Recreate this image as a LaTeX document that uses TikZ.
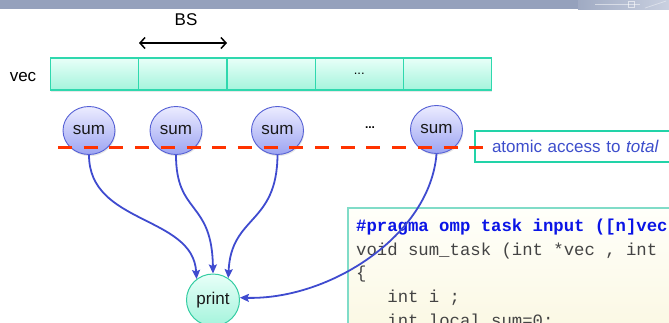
\documentclass[tikz,border=0pt]{standalone}
\usepackage{fontspec}
\setmainfont{Liberation Sans}
\setmonofont{Liberation Mono}
\usetikzlibrary{arrows.meta,shadows,shapes.geometric}

\definecolor{bandgrey}{HTML}{95A1BC}
\definecolor{bandlight}{HTML}{C9D0E0}
\definecolor{cellline}{HTML}{2FD8AE}
\definecolor{celltop}{HTML}{E8FFF8}
\definecolor{cellbot}{HTML}{A4F4DC}
\definecolor{sumline}{HTML}{5560D5}
\definecolor{sumtop}{HTML}{ECECFF}
\definecolor{sumbot}{HTML}{9CA4F2}
\definecolor{flowblue}{HTML}{3F4BCF}
\definecolor{printline}{HTML}{33CCA2}
\definecolor{atomred}{HTML}{FF3300}
\definecolor{noteline}{HTML}{22D3A8}
\definecolor{notetext}{HTML}{3D4ECC}
\definecolor{codeline}{HTML}{80DCC8}
\definecolor{codetop}{HTML}{FFFFFA}
\definecolor{codebot}{HTML}{FAF7E0}
\definecolor{codegrey}{HTML}{444444}
\definecolor{pragmablue}{HTML}{0A14E6}

\tikzset{
  cell/.style={rectangle, draw=cellline, line width=1.2pt,
    top color=celltop, bottom color=cellbot,
    minimum width=88.2pt, minimum height=32pt, inner sep=0pt,
    drop shadow={opacity=0.18, shadow xshift=0.8pt, shadow yshift=-1.6pt}},
  sumnode/.style={ellipse, draw=sumline, line width=0.9pt,
    top color=sumtop, bottom color=sumbot,
    minimum width=52pt, minimum height=48pt, inner sep=0pt,
    font=\fontsize{17}{20}\selectfont, text=black!90,
    drop shadow={opacity=0.2, shadow xshift=0.8pt, shadow yshift=-1.6pt}},
  printnode/.style={ellipse, draw=printline, line width=1pt,
    top color=celltop, bottom color=cellbot,
    minimum width=53pt, minimum height=52pt, inner sep=0pt,
    font=\fontsize{17}{20}\selectfont, text=black!90},
  flow/.style={draw=flowblue, line width=1.8pt,
    -{Stealth[length=9pt, width=8pt, inset=1.5pt]}},
  label/.style={inner sep=0pt, font=\fontsize{17}{20}\selectfont},
  codetext/.style={anchor=base west, inner sep=0pt,
    font=\ttfamily\fontsize{17.3}{20}\selectfont, text=codegrey},
}

\begin{document}
\begin{tikzpicture}[x=1pt, y=-1pt]
  \useasboundingbox (0,0) rectangle (669,322);
  \clip (0,0) rectangle (669,322);

  % header band
  \fill[bandgrey] (0,0) rectangle (669,9.3);
  \shade[left color=bandgrey!90!white, right color=bandlight] (578,0) rectangle (669,9.3);
  \draw[white, opacity=0.5, line width=0.8pt] (595,4.5) -- (640,4.5);
  \draw[white, opacity=0.6, line width=0.8pt] (628,1) rectangle (634,7);
  \draw[white, opacity=0.4, line width=0.8pt] (645,8) -- (666,1);

  % the vector, split into blocks
  \node[cell] (c1) at (94.6,74) {};
  \node[cell] (c2) at (182.8,74) {};
  \node[cell] (c3) at (271.0,74) {};
  \node[cell] (c4) at (359.2,74) {\fontsize{13}{15}\selectfont ...};
  \node[cell] (c5) at (447.4,74) {};
  \node[label] (veclbl) at (23,77) {vec};

  % block size
  \node[label] (bslbl) at (186,20) {BS};
  \coordinate (bsL) at (139,43);
  \coordinate (bsR) at (227,43);
  \draw[line width=1.5pt, {Straight Barb[length=5pt, width=11pt]}-{Straight Barb[length=5pt, width=11pt]}] (bsL) -- (bsR);

  % code box
  \node[rectangle, draw=codeline, line width=1.5pt, top color=codetop, bottom color=codebot,
        anchor=north west, minimum width=360pt, minimum height=140pt, inner sep=0pt] (code) at (347,207) {};
  \node[codetext, text=pragmablue, font=\ttfamily\bfseries\fontsize{17.3}{20}\selectfont] (l1) at (356,231.5) {\#pragma omp task input ([n]vec};
  \node[codetext] (l2) at (356,255) {void sum\_task (int *vec , int};
  \node[codetext] (l3) at (356,278.7) {\{};
  \node[codetext] (l4) at (387.2,302.4) {int i ;};
  \node[codetext] (l5) at (387.2,326.1) {int local\_sum=0;};

  % task nodes
  \node[sumnode] (s1) at (89,130.5) {sum};
  \node[sumnode] (s2) at (176,130.5) {sum};
  \node[sumnode] (s3) at (277.5,130.5) {sum};
  \node[sumnode] (s4) at (436.5,129.5) {sum};
  \node[inner sep=0pt, font=\bfseries\fontsize{12}{14}\selectfont] (dots) at (370,128) {...};
  \node[printnode] (p) at (213,300) {print};

  % dependences into the print task
  \draw[flow] (s1.south) .. controls (89,225) and (193,215) .. (p.128);
  \draw[flow] (s2.south) .. controls (176,215) and (212,200) .. (p.north);
  \draw[flow] (s3.south) .. controls (277,225) and (231,215) .. (p.55);
  \draw[flow] (s4.south) .. controls (430,235) and (330,300) .. (p.5);

  % note box and the atomic line
  \node[draw=noteline, line width=2pt, fill=white, anchor=west, minimum height=31pt,
        inner xsep=17pt, inner ysep=0pt, text width=220pt, align=left,
        font=\fontsize{17}{20}\selectfont, text=notetext] (note) at (474,146.5)
        {atomic access to \textit{total}};
  \coordinate (redA) at (58,147);
  \coordinate (redB) at (484,147);
  \draw[atomred, line width=3pt, dash pattern=on 14pt off 11.7pt] (redA) -- (redB);
\end{tikzpicture}
\end{document}
